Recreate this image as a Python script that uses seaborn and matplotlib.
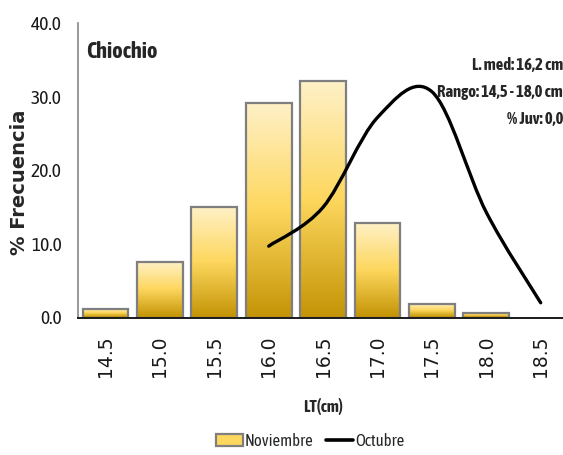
import numpy as np
import pandas as pd
import matplotlib
matplotlib.use("Agg")
import matplotlib.pyplot as plt
import seaborn as sns
from matplotlib import font_manager
from matplotlib.colors import LinearSegmentedColormap
from matplotlib.path import Path
from matplotlib.patches import PathPatch, Patch
from matplotlib.lines import Line2D

# --------------------------------------------------------------
# Data
# --------------------------------------------------------------
lt_labels = ["14.5", "15.0", "15.5", "16.0", "16.5", "17.0", "17.5", "18.0", "18.5"]
noviembre = [1.2, 7.6, 15.0, 29.2, 32.2, 12.8, 1.9, 0.6, 0.0]
octubre = [np.nan, np.nan, np.nan, 9.7, 15.0, 27.2, 30.7, 14.3, 2.0]

species = "Chiochio"
stats_lines = ["L. med: 16,2 cm", "Rango: 14,5 - 18,0 cm", "% Juv: 0,0"]

df = pd.DataFrame({"LT": lt_labels, "Noviembre": noviembre, "Octubre": octubre})

# --------------------------------------------------------------
# Fonts: a condensed face (the original is a squeezed Calibri)
# --------------------------------------------------------------
sns.set_style("white")
installed = {f.name for f in font_manager.fontManager.ttflist}
narrow = next((n for n in ["Asap Condensed", "Liberation Sans Narrow", "Barlow Semi Condensed"]
               if n in installed), "Lato")
plt.rcParams["font.family"] = [narrow, "DejaVu Sans"]

fig = plt.figure(figsize=(5.63, 4.55), dpi=100)
ax = fig.add_axes([78.3 / 563, 1 - 317.5 / 455, 489.6 / 563, 294.2 / 455])

# --------------------------------------------------------------
# Bars with a vertical gradient (Excel style)
# --------------------------------------------------------------
sns.barplot(data=df, x="LT", y="Noviembre", color="#FFD966", width=0.84,
            edgecolor="#7F7F7F", linewidth=1.6, ax=ax, zorder=2)

cmap = LinearSegmentedColormap.from_list("gold", ["#C49406", "#FDD75E", "#FFF1C8"])
grad = np.linspace(1, 0, 256).reshape(-1, 1)
for bar in ax.patches:
    h = bar.get_height()
    bar.set_facecolor("none")
    if h <= 0:
        bar.set_visible(False)
        continue
    x0 = bar.get_x()
    im = ax.imshow(grad, cmap=cmap, aspect="auto", zorder=1.5,
                   extent=(x0, x0 + bar.get_width(), 0, h))
    im.set_clip_path(bar)

# --------------------------------------------------------------
# Smoothed Octubre line (Bezier through the data points)
# --------------------------------------------------------------
pts = df[["Octubre"]].reset_index().dropna().to_numpy(dtype=float)
verts = [tuple(pts[0])]
codes = [Path.MOVETO]
for i in range(len(pts) - 1):
    p_prev = pts[i - 1] if i > 0 else pts[i]
    p0, p1 = pts[i], pts[i + 1]
    p_next = pts[i + 2] if i + 2 < len(pts) else pts[i + 1]
    c1 = p0 + (p1 - p_prev) / 6
    c2 = p1 - (p_next - p0) / 6
    verts += [tuple(c1), tuple(c2), tuple(p1)]
    codes += [Path.CURVE4] * 3
ax.add_patch(PathPatch(Path(verts, codes), facecolor="none", edgecolor="black",
                       linewidth=2.4, capstyle="round", zorder=3))

# --------------------------------------------------------------
# Axes styling
# --------------------------------------------------------------
ax.set_xlim(-0.5, len(lt_labels) - 0.5)
ax.set_ylim(0, 40)
ax.set_yticks([0, 10, 20, 30, 40])
ax.set_yticklabels([f"{v:.1f}" for v in [0, 10, 20, 30, 40]], fontsize=14, color="#1a1a1a")
ax.tick_params(axis="y", direction="in", length=5, width=1, color="#808080", pad=12)

ax.set_xticks(range(len(lt_labels)))
ax.set_xticklabels(lt_labels, rotation=90, fontsize=13.5, family="DejaVu Sans", color="#1a1a1a")
ax.tick_params(axis="x", length=0, pad=13)
ax.set_xticks(np.arange(0.5, len(lt_labels) - 0.5), minor=True)
ax.tick_params(axis="x", which="minor", direction="in", length=6, width=1, color="#404040")

ax.set_xlabel("LT(cm)", fontsize=12, fontweight="bold", labelpad=15)
ax.set_ylabel("% Frecuencia", fontsize=14, fontweight="bold", family="DejaVu Sans")
ax.yaxis.set_label_coords(-0.10, 0.46)

for side in ["top", "right"]:
    ax.spines[side].set_visible(False)
ax.spines["left"].set_color("#868686")
ax.spines["left"].set_linewidth(1.2)
ax.spines["bottom"].set_color("#1a1a1a")
ax.spines["bottom"].set_linewidth(1.4)

# --------------------------------------------------------------
# Annotations
# --------------------------------------------------------------
fig.text(86 / 563, 1 - 52 / 455, species, fontsize=16, fontweight="bold", va="center")
for y_px, line in zip([65, 92, 119], stats_lines):
    fig.text(1.0, 1 - y_px / 455, line, fontsize=12, fontweight="bold",
             ha="right", va="center", zorder=5)

handles = [Patch(facecolor="#FDD75E", edgecolor="#7F7F7F", linewidth=1.6),
           Line2D([], [], color="black", linewidth=2.6)]
fig.legend(handles, ["Noviembre", "Octubre"], loc="center", ncol=2, frameon=False,
           bbox_to_anchor=(310 / 563, 1 - 441 / 455), fontsize=12,
           handlelength=1.6, handletextpad=0.1, columnspacing=0.8)

fig.savefig("out.png", dpi=100)
